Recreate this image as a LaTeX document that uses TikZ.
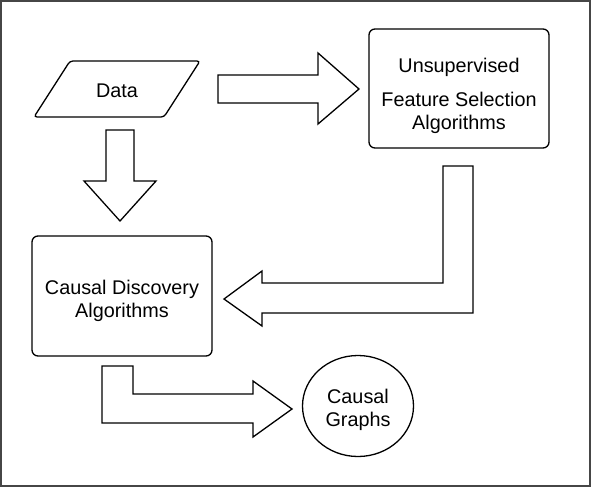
\documentclass[tikz,border=0pt]{standalone}
\usepackage{fontspec}
\setmainfont{Liberation Sans}
\usetikzlibrary{shapes.geometric}
\begin{document}
\begin{tikzpicture}[x=1pt,y=-1pt,
  lbl/.style={align=center,inner sep=0pt,font=\fontsize{19.8}{23}\selectfont},
  blk/.style={draw=black,line width=1.3pt,fill=white,line join=miter},
  rbox/.style={draw=black,line width=1.3pt,rounded corners=6pt}]
\useasboundingbox (0,0) rectangle (591,487);
\draw[line width=2pt,draw={rgb,255:red,70;green,70;blue,70}] (1,1) rectangle (589.5,486);
% Data
\draw[rbox,rounded corners=3pt] (70,61) -- (200,61) -- (164,117) -- (34,117) -- cycle;
\node[lbl] (data) at (117,90.5) {Data};
% Unsupervised box
\draw[rbox] (369,29) rectangle (549,148);
\node[lbl] (ufs) at (459,95.5) {Unsupervised\\[11pt]Feature Selection\\Algorithms};
% Causal Discovery box
\draw[rbox] (32,236) rectangle (212,356);
\node[lbl] (cda) at (122,300.5) {Causal Discovery\\Algorithms};
% Causal Graphs
\node[draw=black,line width=1.3pt,ellipse,minimum width=111pt,minimum height=101pt,inner sep=0pt] (cg) at (358,406) {};
\node[lbl] (cgt) at (358,409.5) {Causal\\Graphs};
% block arrows
\draw[blk] (218,75) -- (318,75) -- (318,53) -- (359,89) -- (318,124) -- (318,103) -- (218,103) -- cycle;
\draw[blk] (106,130) -- (134,130) -- (134,181) -- (156,181) -- (120,221) -- (84,181) -- (106,181) -- cycle;
\draw[blk] (443,166) -- (473,166) -- (473,313) -- (262,313) -- (262,326) -- (224,299) -- (262,271) -- (262,283) -- (443,283) -- cycle;
\draw[blk] (102,366) -- (133,366) -- (133,394) -- (253,394) -- (253,381) -- (292,409) -- (253,437) -- (253,423) -- (102,423) -- cycle;
\end{tikzpicture}
\end{document}
